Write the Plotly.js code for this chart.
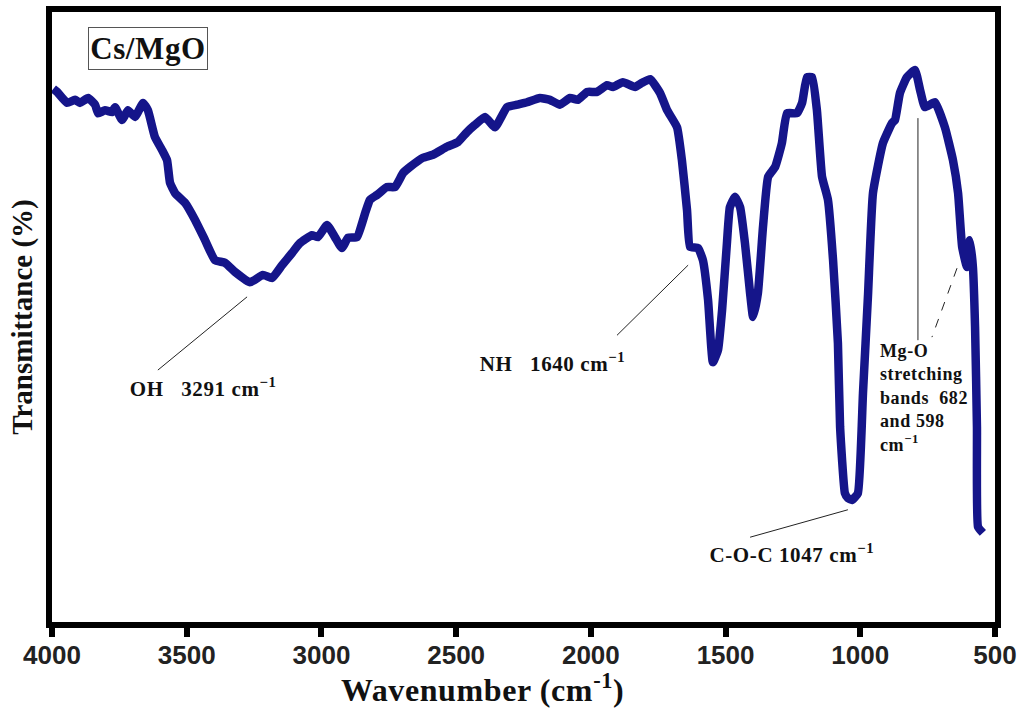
<!DOCTYPE html>
<html>
<head>
<meta charset="utf-8">
<script src="https://cdn.plot.ly/plotly-3.0.1.min.js"></script>
<style>
html,body{margin:0;padding:0;background:#fff;}
#chart{width:1030px;height:713px;}
#chart .annotation-text{letter-spacing:0.6px;}
</style>
</head>
<body>
<div id="chart"></div>
<script>
// FTIR spectrum of Cs/MgO
const wavenumber = [3995,3981,3944,3915,3896,3866,3840,3829,3803,3777,3766,3740,3718,3692,3662,3644,3618,3592,3573,3562,3543,3506,3469,3432,3395,3358,3321,3265,3217,3183,3146,3109,3080,3035,3013,2979,2950,2924,2901,2868,2838,2820,2794,2757,2727,2697,2671,2623,2586,2534,2493,2460,2430,2393,2356,2311,2274,2237,2189,2152,2115,2077,2048,2014,1977,1940,1918,1881,1836,1810,1780,1743,1717,1680,1662,1643,1632,1602,1584,1565,1547,1528,1513,1495,1484,1465,1446,1428,1409,1398,1380,1361,1342,1316,1291,1272,1235,1216,1198,1179,1161,1142,1120,1101,1083,1075,1057,1046,1031,1009,990,971,953,916,882,871,853,827,797,778,760,723,686,656,637,622,604,593,582,574,567,563,545];
const transmittance = [87.4,86.9,85.1,85.6,85.1,85.9,84.8,83.4,83.9,83.6,84.4,82.3,83.9,82.8,85.1,83.9,79.5,77.4,75.7,72.0,70.3,68.7,65.9,62.6,59.3,58.9,57.4,55.7,56.9,56.4,58.5,60.5,62.1,63.4,63.1,65.1,63.1,61.3,63.0,63.1,67.0,69.2,70.0,71.3,71.3,73.6,74.6,76.1,76.6,77.9,78.7,80.3,81.5,82.8,81.1,84.4,84.8,85.2,85.9,85.6,84.8,85.9,85.6,86.9,86.9,88.0,87.7,88.5,87.7,88.4,89.0,86.7,83.9,81.1,75.7,67.5,61.5,61.3,59.3,52.8,42.6,44.6,51.1,62.1,68.0,69.7,68.0,62.1,53.9,50.0,53.9,64.8,73.0,74.6,78.5,83.4,83.4,85.1,89.3,89.3,83.9,73.0,69.2,59.3,45.7,32.0,21.1,20.3,20.0,21.1,37.5,53.9,70.3,78.5,81.8,82.3,86.7,89.3,90.5,87.2,84.4,85.2,81.1,75.7,70.3,61.5,58.2,62.6,58.2,48.4,32.0,15.6,14.6];
const xTickVals = [4000,3500,3000,2500,2000,1500,1000,500];
const xTickText = ['4000','3500','3000','2500','2000','1500','1000','500'];
const sampleName = 'Cs/MgO';
const xTitle = 'Wavenumber (cm<sup>-1</sup>)';
const bandLabels = ['OH   3291 cm<sup>−1</sup>','NH   1640 cm<sup>−1</sup>','C-O-C 1047 cm<sup>−1</sup>','Mg-O<br>stretching<br>bands  682<br>and 598<br>cm<sup>−1</sup>'];

const serif = 'Liberation Serif, Times New Roman, serif';
const trace = {
  x: wavenumber, y: transmittance, type: 'scatter', mode: 'lines',
  line: {color: '#15158a', width: 8.5, shape: 'spline', smoothing: 0.4},
  hoverinfo: 'skip', showlegend: false
};
const annFont = {family: serif, size: 21, color: '#111', weight: 'bold'};
const layout = {
  width: 1030, height: 713,
  margin: {l: 52, r: 35, t: 12, b: 91},
  paper_bgcolor: '#fff', plot_bgcolor: '#fff',
  showlegend: false,
  xaxis: {
    range: [4000, 500], tickvals: xTickVals, ticktext: xTickText,
    ticks: 'outside', ticklen: 9, tickwidth: 6, tickcolor: '#000',
    ticklabelstandoff: -4,
    showline: true, linewidth: 6, linecolor: '#000', mirror: true,
    showgrid: false, zeroline: false,
    tickfont: {family: 'Liberation Sans, Arial, sans-serif', size: 26, color: '#222', weight: 'bold'}
  },
  yaxis: {
    range: [0, 100], showticklabels: false, ticks: '',
    showline: true, linewidth: 6, linecolor: '#000', mirror: true,
    showgrid: false, zeroline: false,
    title: {text: 'Transmittance (%)', font: {family: serif, size: 29, color: '#111', weight: 'bold'}, standoff: 7}
  },
  shapes: [
    {type: 'line', xref: 'x', yref: 'y', x0: 3607, y0: 41.3, x1: 3276, y1: 53.3, line: {color: '#222', width: 1}},
    {type: 'line', xref: 'x', yref: 'y', x0: 1903, y0: 47.0, x1: 1639, y1: 58.5, line: {color: '#222', width: 1}},
    {type: 'line', xref: 'x', yref: 'y', x0: 1409, y0: 13.9, x1: 1046, y1: 18.4, line: {color: '#222', width: 1}},
    {type: 'line', xref: 'x', yref: 'y', x0: 786, y0: 82.6, x1: 786, y1: 46.2, line: {color: '#222', width: 1}},
    {type: 'line', xref: 'x', yref: 'y', x0: 641, y0: 58.0, x1: 734, y1: 46.7, line: {color: '#222', width: 1, dash: 'dash'}}
  ],
  annotations: [
    {xref: 'paper', yref: 'paper', x: 0.456, y: -0.145, xanchor: 'center', yanchor: 'bottom',
     text: xTitle, showarrow: false, font: {family: serif, size: 32, color: '#111', weight: 'bold'}},
    {xref: 'paper', yref: 'paper', x: 0.038, y: 0.975, xanchor: 'left', yanchor: 'top',
     text: sampleName, showarrow: false, font: {family: serif, size: 31, color: '#111', weight: 'bold'},
     bordercolor: '#555', borderwidth: 1, borderpad: 3, bgcolor: '#fff'},
    {xref: 'x', yref: 'y', x: 3703, y: 38.5, xanchor: 'left', yanchor: 'middle', text: bandLabels[0], showarrow: false, font: annFont},
    {xref: 'x', yref: 'y', x: 2404, y: 42.5, xanchor: 'left', yanchor: 'middle', text: bandLabels[1], showarrow: false, font: annFont},
    {xref: 'x', yref: 'y', x: 1550, y: 11.3, xanchor: 'left', yanchor: 'middle', text: bandLabels[2], showarrow: false, font: annFont},
    {xref: 'x', yref: 'y', x: 935, y: 46.4, xanchor: 'left', yanchor: 'top', align: 'left', text: bandLabels[3], showarrow: false,
     font: {family: serif, size: 18, color: '#111', weight: 'bold'}}
  ]
};
Plotly.newPlot('chart', [trace], layout, {staticPlot: true, displayModeBar: false});
</script>
</body>
</html>
